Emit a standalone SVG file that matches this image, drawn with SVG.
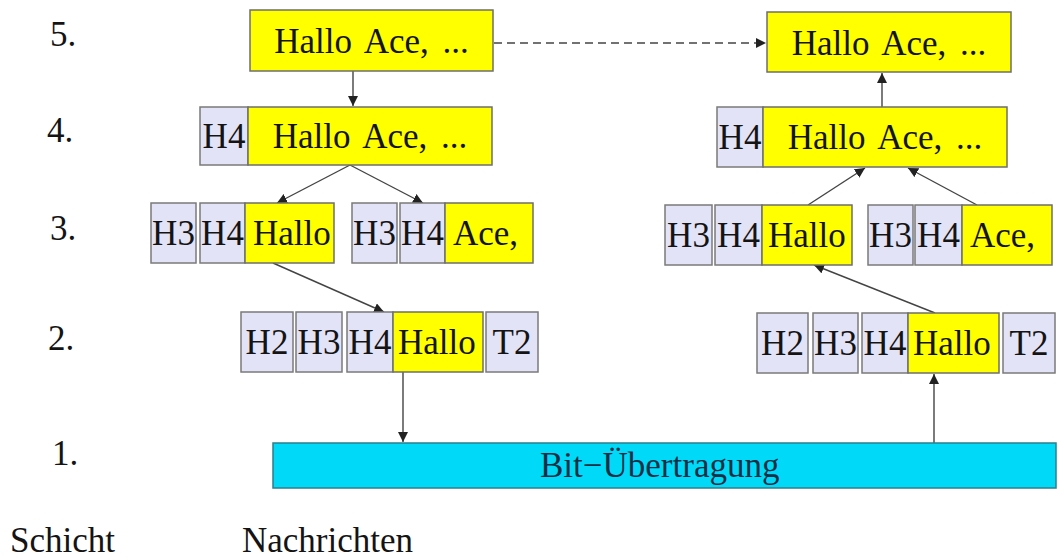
<svg xmlns="http://www.w3.org/2000/svg" width="1058" height="560" viewBox="0 0 1058 560">
<defs>
<style>
text{font-family:'Liberation Serif','Times New Roman','Noto Serif','DejaVu Serif',serif;font-size:35px;fill:#141414}
.y{fill:#ffff00;stroke:#6e6e6e;stroke-width:1.5}
.h{fill:#e3e3f7;stroke:#7a7a7a;stroke-width:1.5}
.c{text-anchor:middle}
.w{word-spacing:5px}
.ln{stroke:#444;stroke-width:1.4;fill:none}
.bar{fill:#00daf8;stroke:#2b7f8c;stroke-width:1.5}
</style>
<marker id="ah" viewBox="0 0 10 10" refX="10" refY="5" markerWidth="10" markerHeight="10" markerUnits="userSpaceOnUse" orient="auto">
<path d="M0,0 L10,5 L0,10 z" fill="#222"/>
</marker>
</defs>
<rect width="1058" height="560" fill="#fff"/>
<g id="labels">
<text x="50" y="46">5.</text>
<text x="47" y="142">4.</text>
<text x="50" y="240">3.</text>
<text x="48" y="350">2.</text>
<text x="52" y="465">1.</text>
<text x="10" y="552">Schicht</text>
<text x="242" y="552">Nachrichten</text>
</g>
<g id="connectors">
<line class="ln" x1="353" y1="71" x2="353" y2="106" marker-end="url(#ah)"/>
<line class="ln" x1="350" y1="165" x2="277" y2="203" marker-end="url(#ah)"/>
<line class="ln" x1="350" y1="165" x2="423" y2="203" marker-end="url(#ah)"/>
<line class="ln" x1="273" y1="263" x2="384" y2="312" marker-end="url(#ah)"/>
<line class="ln" x1="403" y1="372" x2="403" y2="442" marker-end="url(#ah)"/>
<line class="ln" x1="934" y1="443" x2="934" y2="374" marker-end="url(#ah)"/>
<line class="ln" x1="935" y1="313" x2="814" y2="265" marker-end="url(#ah)"/>
<line class="ln" x1="808" y1="205" x2="865" y2="168" marker-end="url(#ah)"/>
<line class="ln" x1="977" y1="205" x2="908" y2="168" marker-end="url(#ah)"/>
<line class="ln" x1="882" y1="107" x2="882" y2="73" marker-end="url(#ah)"/>
<line class="ln" x1="494" y1="43" x2="766" y2="43" stroke-dasharray="8,5" marker-end="url(#ah)"/>
</g>
<g id="L5">
<rect class="y" x="250" y="10" width="243" height="61"/>
<text class="c w" x="371.5" y="53">Hallo Ace, ...</text>
</g>
<g id="L4">
<rect class="h" x="200" y="107" width="48" height="58"/>
<text class="c" x="224" y="148">H4</text>
<rect class="y" x="248" y="107" width="244" height="58"/>
<text class="c w" x="370" y="148">Hallo Ace, ...</text>
</g>
<g id="L3a">
<rect class="h" x="151" y="203" width="45" height="60"/>
<text class="c" x="173.5" y="245">H3</text>
<rect class="h" x="200" y="203" width="45" height="60"/>
<text class="c" x="222.5" y="245">H4</text>
<rect class="y" x="245" y="203" width="89" height="60"/>
<text x="253" y="245">Hallo</text>
</g>
<g id="L3b">
<rect class="h" x="352" y="203" width="45" height="60"/>
<text class="c" x="374.5" y="245">H3</text>
<rect class="h" x="400" y="203" width="45" height="60"/>
<text class="c" x="422.5" y="245">H4</text>
<rect class="y" x="445" y="203" width="88" height="60"/>
<text x="453" y="245">Ace,</text>
</g>
<g id="L2">
<rect class="h" x="241" y="312" width="52" height="60"/>
<text class="c" x="267" y="354">H2</text>
<rect class="h" x="296" y="312" width="46" height="60"/>
<text class="c" x="319" y="354">H3</text>
<rect class="h" x="347" y="312" width="46" height="60"/>
<text class="c" x="370" y="354">H4</text>
<rect class="y" x="393" y="312" width="90" height="60"/>
<text x="398" y="354">Hallo</text>
<rect class="h" x="486" y="312" width="52" height="60"/>
<text class="c" x="512" y="354">T2</text>
</g>
<g id="R5">
<rect class="y" x="767" y="12" width="244" height="60"/>
<text class="c w" x="889" y="55">Hallo Ace, ...</text>
</g>
<g id="R4">
<rect class="h" x="717" y="107" width="46" height="60"/>
<text class="c" x="740" y="149">H4</text>
<rect class="y" x="763" y="107" width="244" height="60"/>
<text class="c w" x="885" y="149">Hallo Ace, ...</text>
</g>
<g id="R3a">
<rect class="h" x="665" y="205" width="47" height="60"/>
<text class="c" x="688.5" y="247">H3</text>
<rect class="h" x="715" y="205" width="47" height="60"/>
<text class="c" x="738.5" y="247">H4</text>
<rect class="y" x="762" y="205" width="90" height="60"/>
<text x="768" y="247">Hallo</text>
</g>
<g id="R3b">
<rect class="h" x="868" y="205" width="45" height="60"/>
<text class="c" x="890.5" y="247">H3</text>
<rect class="h" x="915" y="205" width="47" height="60"/>
<text class="c" x="938.5" y="247">H4</text>
<rect class="y" x="962" y="205" width="90" height="60"/>
<text x="970" y="247">Ace,</text>
</g>
<g id="R2">
<rect class="h" x="757" y="313" width="51" height="60"/>
<text class="c" x="782.5" y="355">H2</text>
<rect class="h" x="813" y="313" width="45" height="60"/>
<text class="c" x="835.5" y="355">H3</text>
<rect class="h" x="862" y="313" width="46" height="60"/>
<text class="c" x="885" y="355">H4</text>
<rect class="y" x="908" y="313" width="91" height="60"/>
<text x="913" y="355">Hallo</text>
<rect class="h" x="1003" y="313" width="52" height="60"/>
<text class="c" x="1029" y="355">T2</text>
</g>
<g id="L1">
<rect class="bar" x="273" y="443" width="783" height="45"/>
<text x="540" y="477" style="fill:#0c2f45">Bit−Übertragung</text>
</g>
</svg>
